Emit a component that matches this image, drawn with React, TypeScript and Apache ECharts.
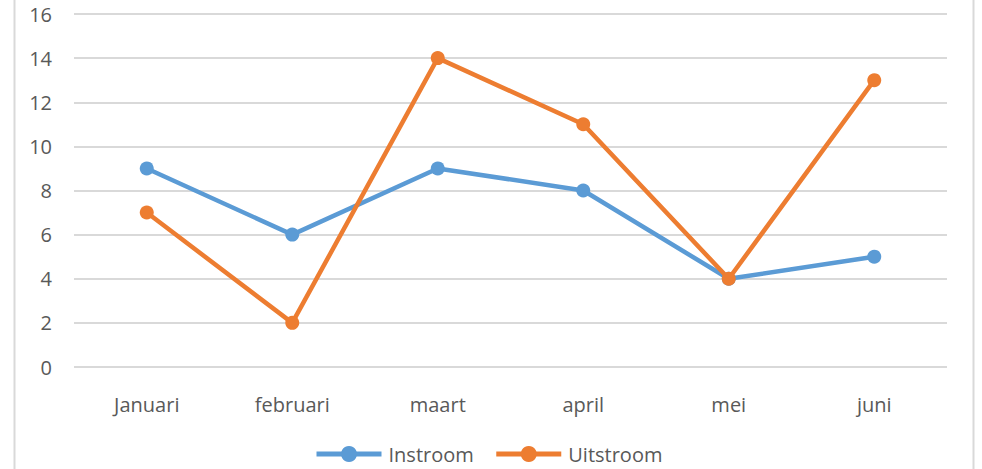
import React, { useEffect, useRef } from "react";
import * as echarts from "echarts";

const categories = ["Januari", "februari", "maart", "april", "mei", "juni"];
const instroom = [9, 6, 9, 8, 4, 5];
const uitstroom = [7, 2, 14, 11, 4, 13];
const seriesNames = ["Instroom", "Uitstroom"];
const colors = ["#5B9BD5", "#ED7D31"];

const FONT = "Open Sans";

export default function App() {
  const ref = useRef<HTMLDivElement>(null);
  useEffect(() => {
    if (!ref.current) return;
    const chart = echarts.init(ref.current, null, { renderer: "svg" });
    chart.setOption({
      animation: false,
      backgroundColor: "#ffffff",
      grid: { left: 74, right: 35, top: 14, bottom: 102, containLabel: false },
      xAxis: {
        type: "category",
        data: categories,
        boundaryGap: true,
        axisLine: { show: false },
        axisTick: { show: false },
        axisLabel: { color: "#595959", fontFamily: FONT, fontSize: 20, margin: 27 },
      },
      yAxis: {
        type: "value",
        min: 0,
        max: 16,
        interval: 2,
        axisLine: { show: false },
        axisTick: { show: false },
        axisLabel: { color: "#595959", fontFamily: FONT, fontSize: 20, margin: 22 },
        splitLine: { lineStyle: { color: "#D9D9D9", width: 2 } },
      },
      legend: {
        data: seriesNames,
        bottom: 0,
        left: 309,
        itemWidth: 65,
        itemHeight: 20,
        itemGap: 20,
        lineStyle: { width: 5 },
        textStyle: { color: "#595959", fontFamily: FONT, fontSize: 20, padding: [0, 0, 0, 2] },
      },
      series: [
        {
          name: seriesNames[0],
          type: "line",
          data: instroom,
          color: colors[0],
          symbol: "circle",
          symbolSize: 14,
          lineStyle: { width: 4.5, color: colors[0] },
          itemStyle: { color: colors[0] },
          z: 2,
        },
        {
          name: seriesNames[1],
          type: "line",
          data: uitstroom,
          color: colors[1],
          symbol: "circle",
          symbolSize: 14,
          lineStyle: { width: 4.5, color: colors[1] },
          itemStyle: { color: colors[1] },
          z: 3,
        },
      ],
      graphic: [
        { type: "line", shape: { x1: 14.5, y1: 0, x2: 14.5, y2: 469 }, style: { stroke: "#D9D9D9", lineWidth: 2 } },
        { type: "line", shape: { x1: 973.5, y1: 0, x2: 973.5, y2: 469 }, style: { stroke: "#D9D9D9", lineWidth: 2 } },
      ],
    });
    return () => chart.dispose();
  }, []);
  return <div ref={ref} style={{ width: 982, height: 469, position: "absolute", left: 0, top: 0 }} />;
}
